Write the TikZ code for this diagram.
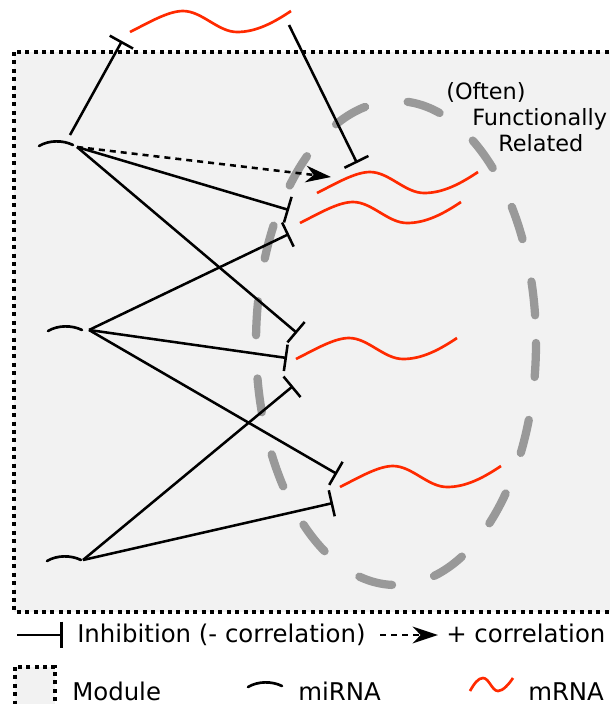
\documentclass[tikz,border=0pt]{standalone}
\usepackage{fontspec}
\setmainfont{DejaVu Sans}
\usetikzlibrary{arrows.meta}
\definecolor{modfill}{HTML}{F2F2F2}
\definecolor{mred}{HTML}{FF2A00}
\definecolor{elgray}{HTML}{999999}
\tikzset{
  modbox/.style={fill=modfill, line width=2.4pt, dash pattern=on 3pt off 3.3pt},
  inh/.style={line width=1.9pt, -{Bar[width=20pt]}},
  posarrow/.style={line width=1.9pt, dash pattern=on 4.5pt off 3.75pt, -{Stealth[length=19pt,width=12.5pt,inset=6pt]}},
  mirnaline/.style={line width=2pt, line cap=round},
  mrnaline/.style={draw=mred, line width=2pt},
  related/.style={elgray, line width=6.2pt, line cap=round, dash pattern=on 25.5pt off 32.5pt},
  lbl/.style={inner sep=0pt, anchor=base west, font=\fontsize{16.8}{20}\selectfont},
  lg/.style={inner sep=0pt, anchor=base west, font=\fontsize{18.3}{22}\selectfont},
  mrna/.pic={\draw[mrnaline] (0,0) .. controls (18,-9) and (38,-21) .. (53,-21)
      .. controls (72,-21) and (88,0) .. (107,0)
      .. controls (126,0) and (143,-9) .. (161,-21);},
  mirna/.pic={\draw[mirnaline] (0,0) .. controls (10,-6) and (24,-6) .. (34,-1);}
}
\begin{document}
\begin{tikzpicture}[x=0.75pt,y=-0.75pt]
\useasboundingbox (0,0) rectangle (610,704);
\clip (0,0) rectangle (610,704);
\fill[white] (0,0) rectangle (610,704);
% module box
\draw[modbox] (14,52) rectangle (625,612);
% functionally related group
\draw[related] (396,343) ellipse [x radius=140, y radius=242];

% miRNAs
\pic at (39,146) {mirna};
\pic at (48,331) {mirna};
\pic at (47,561) {mirna};
\coordinate (m1) at (77,147);
\coordinate (m1t) at (70,135);
\coordinate (m2) at (89,330);
\coordinate (m3) at (83,560);

% mRNAs
\pic at (130,32) {mrna};
\pic at (317,193) {mrna};
\pic at (300,223) {mrna};
\pic at (296,359) {mrna};
\pic at (340,487) {mrna};

% target points
\coordinate (t0) at (122,41);
\coordinate (top) at (289,25);
\coordinate (t1) at (357,163);
\coordinate (p1) at (331,177);
\coordinate (a2) at (289,210);
\coordinate (b2) at (289,234);
\coordinate (a3) at (297,333);
\coordinate (b3) at (287,358);
\coordinate (c3) at (293,386);
\coordinate (a4) at (337,474);
\coordinate (b4) at (333,503);

% interactions
\draw[inh] (m1t) -- (t0);
\draw[inh] (top) -- (t1);
\draw[posarrow] (m1) -- (p1);
\draw[inh] (m1) -- (a2);
\draw[inh] (m1) -- (a3);
\draw[inh] (m2) -- (b2);
\draw[inh] (m2) -- (b3);
\draw[inh] (m2) -- (a4);
\draw[inh] (m3) -- (c3);
\draw[inh] (m3) -- (b4);

% labels
\node[lbl] (often) at (446,99) {(Often)};
\node[lbl] (func) at (472,125) {Functionally};
\node[lbl] (rel) at (498,151) {Related};

% legend
\coordinate (li1) at (17,635);
\coordinate (li2) at (63,635);
\draw[inh] (li1) -- (li2);
\node[lg] (inhtext) at (77,642) {Inhibition (- correlation)};
\coordinate (lp1) at (380,635);
\coordinate (lp2) at (438,635);
\draw[posarrow] (lp1) -- (lp2);
\node[lg] (postext) at (446,642) {+ correlation};
\draw[modbox] (15,667) rectangle (55,706);
\node[lg] (modtext) at (72,700) {Module};
\pic at (248,687) {mirna};
\node[lg] (mitext) at (298,700) {miRNA};
\draw[mrnaline] (470,691) .. controls (474,684) and (478,678) .. (483,678)
   .. controls (489,678) and (492,691) .. (498,691)
   .. controls (503,691) and (509,684) .. (513,678);
\node[lg] (mtext) at (528,700) {mRNA};
\end{tikzpicture}
\end{document}
